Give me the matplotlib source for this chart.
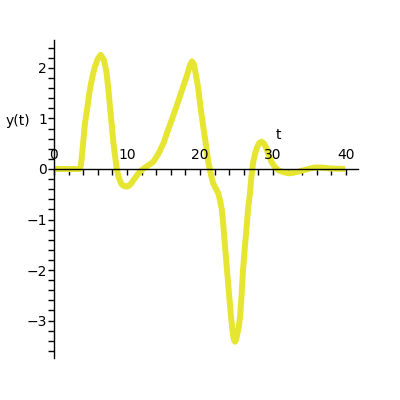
import matplotlib
matplotlib.use("Agg")
import matplotlib.pyplot as plt
import numpy as np

t_vals = [0.0, 1.0, 2.0, 3.0, 3.5, 3.7, 3.95, 4.25, 4.6, 4.9, 5.25, 5.6, 6.0, 6.4, 6.8, 7.0, 7.2, 7.45,
          7.67, 7.9, 8.1, 8.35, 8.6, 8.8, 9.0, 9.25, 9.5, 9.96, 10.3, 10.6, 11.0, 11.5, 11.8, 12.2,
          12.6, 13.1, 13.6, 14.3, 15.0, 15.6, 16.3, 17.0, 17.7, 18.1, 18.4, 18.65, 18.9, 19.15, 19.3,
          19.55, 19.8, 20.1, 20.45, 20.8, 21.1, 21.45, 21.8, 22.15, 22.5, 22.75, 23.0, 23.2, 23.4,
          23.65, 23.9, 24.1, 24.3, 24.5, 24.65, 24.8, 24.95, 25.1, 25.3, 25.5, 25.7, 25.9, 26.15,
          26.4, 26.6, 26.85, 27.05, 27.3, 27.55, 27.8, 28.1, 28.45, 28.8, 29.1, 29.45, 29.8, 30.25,
          30.7, 31.4, 32.1, 32.8, 33.5, 34.3, 35.1, 35.6, 36.2, 37.0, 37.8, 38.8, 39.9]
y_vals = [0.0, 0.0, 0.0, 0.0, 0.0, 0.08, 0.45, 0.91, 1.25, 1.56, 1.82, 2.02, 2.18, 2.26, 2.17, 2.06, 1.9, 1.58,
          1.23, 0.9, 0.57, 0.28, 0.0, -0.13, -0.22, -0.3, -0.33, -0.35, -0.33, -0.28, -0.2, -0.1, -0.05, 0.0,
          0.04, 0.09, 0.14, 0.3, 0.51, 0.76, 1.04, 1.33, 1.63, 1.8, 1.94, 2.06, 2.13, 2.08, 1.98,
          1.78, 1.56, 1.2, 0.84, 0.5, 0.18, -0.08, -0.28, -0.38, -0.48, -0.62, -0.81, -1.1, -1.47,
          -1.9, -2.33, -2.68, -2.99, -3.25, -3.38, -3.42, -3.38, -3.28, -3.15, -2.92, -2.5, -2.0, -1.55,
          -1.14, -0.78, -0.48, -0.15, 0.14, 0.3, 0.42, 0.51, 0.54, 0.5, 0.41, 0.27, 0.14, 0.04,
          -0.02, -0.06, -0.085, -0.075, -0.05, -0.02, 0.01, 0.025, 0.03, 0.025, 0.01, 0.005, 0.0]

x_labels = [0, 10, 20, 30, 40]
y_labels = [-3, -2, -1, 0, 1, 2]

fig = plt.figure(figsize=(4, 4), dpi=100)
ax = fig.add_axes([0.135, 0.104, 0.759, 0.7955])
ax.plot(t_vals, y_vals, color='#e6e632', lw=4.3, solid_joinstyle='round', solid_capstyle='butt')

ax.set_xlim(0, 41.6)
ax.set_ylim(-3.75, 2.55)
for s in ['top', 'right']:
    ax.spines[s].set_visible(False)
ax.spines['left'].set_position(('data', 0))
ax.spines['bottom'].set_position(('data', 0))
ax.spines['left'].set_linewidth(1.0)
ax.spines['bottom'].set_linewidth(1.0)

ax.set_xticks(np.arange(0, 41, 2))
ax.set_xticklabels([])
ax.tick_params(axis='x', direction='out', length=4, width=1)
for v in x_labels:
    ax.annotate(str(v), xy=(v, 0), xytext=(0, 7), textcoords='offset pixels',
                ha='center', va='bottom', fontsize=10)

ax.set_yticks(y_labels)
ax.set_yticklabels([str(v).replace('-', '\u2212') for v in y_labels], fontsize=10)
ax.set_yticks(np.arange(-3.6, 2.45, 0.2), minor=True)
ax.tick_params(axis='y', which='both', direction='out', length=4, width=1, pad=1)

ax.text(30.8, 0.67, 't', ha='center', va='center', fontsize=10)
ax.text(-4.9, 0.95, 'y(t)', ha='center', va='center', fontsize=10, clip_on=False)

fig.savefig('out.png', dpi=100)
